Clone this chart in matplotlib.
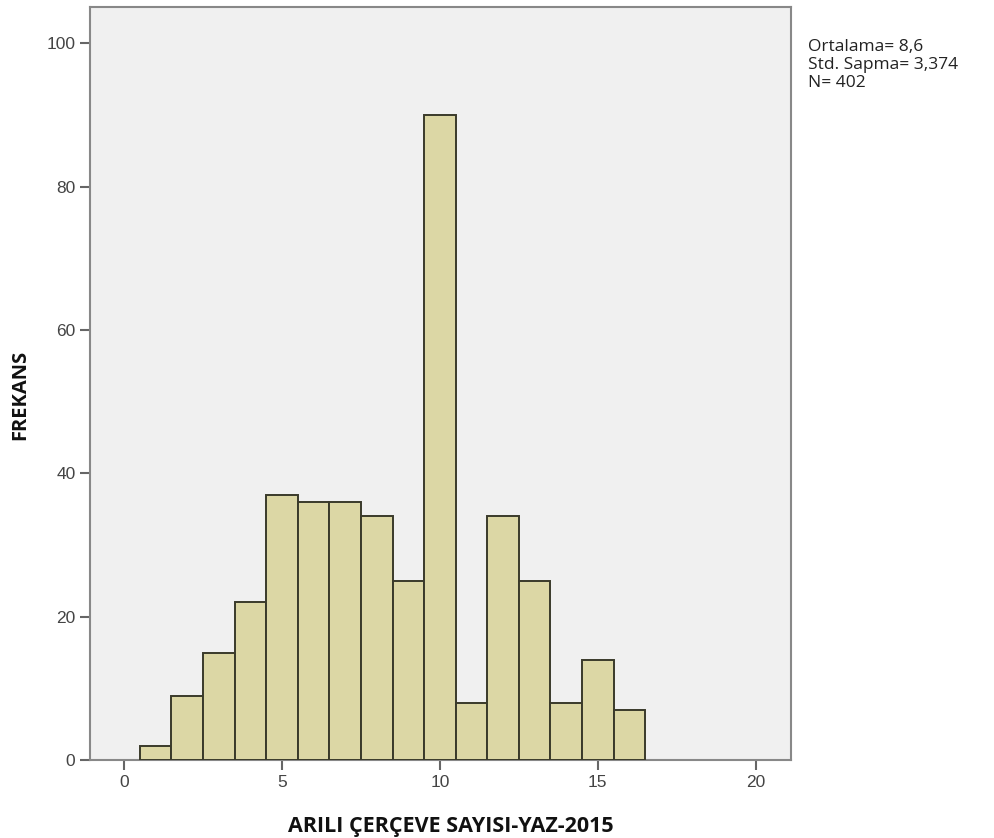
import matplotlib
matplotlib.use("Agg")
import matplotlib.pyplot as plt
import numpy as np

values = [1, 2, 3, 4, 5, 6, 7, 8, 9, 10, 11, 12, 13, 14, 15, 16]
counts = [2, 9, 15, 22, 37, 36, 36, 34, 25, 90, 8, 34, 25, 8, 14, 7]
xticks = [0, 5, 10, 15, 20]
yticks = [0, 20, 40, 60, 80, 100]
stats_text = "Ortalama= 8,6\nStd. Sapma= 3,374\nN= 402"
xlabel = "ARILI ÇERÇEVE SAYISI-YAZ-2015"
ylabel = "FREKANS"

fig = plt.figure(figsize=(9.94, 8.38), dpi=100)
ax = fig.add_axes([90/994, 1-760/838, (791-90)/994, (760-7)/838])
ax.set_facecolor("#f0f0f0")
ax.bar(values, counts, width=1.0, color="#dcd7a5", edgecolor="#3a3a2a", linewidth=1.4, zorder=3)
ax.set_xlim(-1.08, 21.12)
ax.set_ylim(0, 105.07)
ax.set_xticks(xticks)
ax.set_yticks(yticks)
for s in ax.spines.values():
    s.set_color("#888888")
    s.set_linewidth(1.5)
ax.tick_params(axis="both", direction="out", length=7, width=1.5, color="#666666",
               labelsize=12.5, labelcolor="#444444")
for lab in ax.get_xticklabels() + ax.get_yticklabels():
    lab.set_family("Liberation Sans")
ax.tick_params(axis="x", pad=4)
fig.text(451/994, 1-826/838, xlabel, ha="center", va="center", fontsize=15.5,
         fontweight="bold", family="Open Sans", color="#111111")
fig.text(20/994, 1-395/838, ylabel, ha="center", va="center", rotation=90, fontsize=14.5,
         fontweight="bold", family="Open Sans", color="#111111")
fig.text(808/994, 1-39/838, stats_text, ha="left", va="top", fontsize=12.5,
         family="Open Sans", color="#222222", linespacing=1.15)
fig.savefig("out.png", dpi=100)
